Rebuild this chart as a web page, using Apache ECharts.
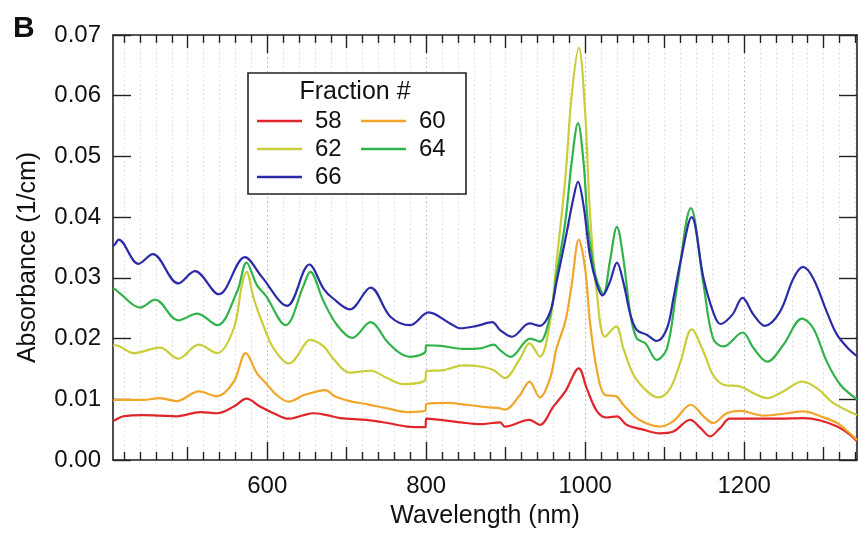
<!DOCTYPE html>
<html>
<head>
<meta charset="utf-8">
<script src="https://cdn.jsdelivr.net/npm/echarts@6/dist/echarts.min.js"></script>
<style>
html,body{margin:0;padding:0;background:#fff;}
#chart{width:858px;height:534px;}
</style>
</head>
<body>
<div id="chart"></div>
<script>
// ---- data (wavelength nm, absorbance 1/cm) ----
const s58 = [[406,0.0064],[409,0.0066],[419,0.0072],[444,0.0074],[465,0.0073],[486,0.0072],[516,0.0079],[537,0.0077],[558,0.0088],[574,0.0101],[591,0.0088],[608,0.0077],[627,0.0068],[646,0.0074],[658,0.0077],[675,0.0074],[692,0.0069],[725,0.0066],[751,0.0061],[776,0.0055],[799,0.0054],[800,0.0068],[818,0.0066],[843,0.0062],[868,0.0059],[893,0.0062],[899,0.0055],[930,0.0066],[943,0.0058],[960,0.0088],[975,0.0113],[992,0.0151],[1002,0.0118],[1015,0.0080],[1027,0.0070],[1040,0.0072],[1052,0.0058],[1073,0.0050],[1094,0.0044],[1111,0.0047],[1132,0.0066],[1145,0.0053],[1157,0.0039],[1170,0.0053],[1182,0.0068],[1212,0.0068],[1245,0.0068],[1275,0.0069],[1296,0.0065],[1317,0.0055],[1333,0.0042],[1342,0.0031]];
const s60 = [[406,0.0098],[409,0.0099],[444,0.0099],[465,0.0102],[486,0.0097],[514,0.0113],[537,0.0105],[558,0.0129],[573,0.0176],[587,0.0143],[600,0.0124],[612,0.0107],[627,0.0096],[646,0.0107],[654,0.0110],[673,0.0115],[685,0.0105],[704,0.0097],[725,0.0092],[751,0.0085],[776,0.0079],[799,0.0081],[800,0.0092],[826,0.0094],[851,0.0091],[876,0.0087],[893,0.0085],[899,0.0083],[918,0.0107],[930,0.0129],[943,0.0103],[956,0.0135],[964,0.0184],[975,0.0228],[983,0.0288],[992,0.0363],[1000,0.0315],[1006,0.0228],[1015,0.0146],[1025,0.0107],[1039,0.0105],[1048,0.0091],[1065,0.0069],[1082,0.0058],[1094,0.0055],[1111,0.0064],[1133,0.0091],[1149,0.0072],[1161,0.0061],[1178,0.0077],[1195,0.0081],[1224,0.0073],[1254,0.0077],[1275,0.0080],[1296,0.0072],[1317,0.0061],[1333,0.0044],[1342,0.0033]];
const s62 = [[406,0.0188],[409,0.0189],[432,0.0176],[465,0.0185],[488,0.0167],[514,0.0190],[537,0.0176],[558,0.0217],[568,0.0288],[574,0.0310],[583,0.0266],[595,0.0222],[608,0.0184],[627,0.0159],[650,0.0195],[654,0.0198],[671,0.0187],[683,0.0167],[704,0.0144],[730,0.0147],[751,0.0135],[771,0.0125],[799,0.0132],[800,0.0146],[822,0.0148],[847,0.0156],[868,0.0154],[885,0.0148],[899,0.0135],[918,0.0167],[930,0.0192],[943,0.0170],[956,0.0228],[964,0.0326],[975,0.0463],[983,0.0600],[992,0.0679],[1000,0.0573],[1006,0.0408],[1015,0.0271],[1025,0.0203],[1039,0.0220],[1048,0.0184],[1061,0.0140],[1078,0.0113],[1092,0.0103],[1107,0.0118],[1120,0.0162],[1134,0.0215],[1149,0.0178],[1161,0.0140],[1174,0.0124],[1195,0.0121],[1212,0.0110],[1229,0.0102],[1249,0.0113],[1273,0.0129],[1292,0.0118],[1312,0.0094],[1342,0.0074]];
const s64 = [[406,0.0283],[409,0.0281],[415,0.0274],[440,0.0251],[459,0.0264],[488,0.0230],[512,0.0241],[537,0.0222],[562,0.0277],[574,0.0325],[587,0.0288],[598,0.0271],[623,0.0222],[646,0.0288],[654,0.0310],[671,0.0261],[688,0.0222],[707,0.0201],[730,0.0227],[751,0.0195],[767,0.0176],[780,0.0170],[799,0.0178],[800,0.0189],[818,0.0188],[847,0.0183],[868,0.0184],[885,0.0190],[893,0.0181],[906,0.0170],[931,0.0200],[943,0.0195],[956,0.0239],[964,0.0304],[975,0.0392],[983,0.0490],[991,0.0555],[998,0.0490],[1004,0.0381],[1013,0.0304],[1023,0.0274],[1031,0.0326],[1040,0.0384],[1048,0.0332],[1057,0.0239],[1065,0.0200],[1076,0.0192],[1090,0.0165],[1103,0.0184],[1115,0.0280],[1133,0.0415],[1149,0.0288],[1161,0.0200],[1174,0.0187],[1198,0.0210],[1212,0.0184],[1229,0.0162],[1249,0.0189],[1273,0.0233],[1287,0.0217],[1304,0.0162],[1321,0.0124],[1342,0.0100]];
const s66 = [[406,0.0352],[409,0.0356],[413,0.0363],[438,0.0323],[456,0.0339],[488,0.0291],[509,0.0311],[539,0.0273],[572,0.0334],[593,0.0302],[625,0.0254],[653,0.0322],[671,0.0282],[683,0.0266],[704,0.0248],[730,0.0284],[755,0.0236],[780,0.0222],[803,0.0243],[830,0.0225],[843,0.0217],[864,0.0221],[883,0.0227],[893,0.0214],[908,0.0203],[930,0.0225],[943,0.0221],[956,0.0244],[964,0.0293],[977,0.0376],[985,0.0430],[991,0.0458],[998,0.0419],[1006,0.0337],[1015,0.0288],[1022,0.0271],[1031,0.0293],[1040,0.0325],[1048,0.0293],[1057,0.0239],[1065,0.0214],[1078,0.0206],[1090,0.0196],[1103,0.0217],[1111,0.0266],[1120,0.0327],[1134,0.0400],[1149,0.0299],[1161,0.0244],[1170,0.0224],[1185,0.0239],[1198,0.0267],[1212,0.0239],[1226,0.0221],[1245,0.0244],[1262,0.0299],[1274,0.0318],[1287,0.0299],[1304,0.0244],[1317,0.0206],[1333,0.0181],[1342,0.0171]];

const seriesNames = ['58','60','62','64','66'];
const seriesColors = ['#e0262b','#f0a62a','#cacd3a','#2fb34a','#2b2ba8'];
const xLabels = [600, 800, 1000, 1200];
const xMedium = [500, 700, 900, 1100, 1300];
const xMinor = [420,440,460,480,520,540,560,580,620,640,660,680,720,740,760,780,820,840,860,880,920,940,960,980,1020,1040,1060,1080,1120,1140,1160,1180,1220,1240,1260,1280,1320,1340];
const yTicks = [0, 0.01, 0.02, 0.03, 0.04, 0.05, 0.06, 0.07];
const X_MIN = 406, X_MAX = 1342;

const FONT = 'Liberation Sans, Arial, sans-serif';
const dark = '#222';

function xAx(pos, ticks, len, withLabels, splitColor, showLine) {
  return {
    type: 'value', position: pos, min: X_MIN, max: X_MAX,
    axisLine: { show: showLine, onZero: false, lineStyle: { color: dark, width: 1.6 } },
    axisTick: { show: true, inside: true, length: len, customValues: ticks, lineStyle: { color: dark, width: 1.4 } },
    axisLabel: withLabels ? { show: true, customValues: xLabels, fontSize: 24, color: '#111', fontFamily: FONT, margin: 14, formatter: v => String(Math.round(v)) } : { show: false },
    splitLine: splitColor ? { show: true, lineStyle: { color: splitColor, type: [1.5, 3], width: 1 } } : { show: false },
    name: withLabels ? 'Wavelength (nm)' : '',
    nameLocation: 'middle', nameGap: 44,
    nameTextStyle: { fontSize: 25, color: '#111', fontFamily: FONT }
  };
}
function yAx(pos, withLabels) {
  return {
    type: 'value', position: pos, min: 0, max: 0.07, interval: 0.01,
    axisLine: { show: true, onZero: false, lineStyle: { color: dark, width: 1.6 } },
    axisTick: { show: true, inside: true, length: 18, customValues: yTicks, lineStyle: { color: dark, width: 1.4 } },
    axisLabel: withLabels ? { show: true, customValues: yTicks, fontSize: 24, color: '#111', fontFamily: FONT, margin: 12, formatter: v => v.toFixed(2) } : { show: false },
    splitLine: { show: false },
    name: withLabels ? 'Absorbance (1/cm)' : '',
    nameLocation: 'middle', nameGap: 72, nameRotate: 90,
    nameTextStyle: { fontSize: 25, color: '#111', fontFamily: FONT, padding: [0, 20, 0, 0] }
  };
}

const data = [s58, s60, s62, s64, s66];
const chart = echarts.init(document.getElementById('chart'), null, { renderer: 'canvas' });
chart.setOption({
  animation: false,
  backgroundColor: '#fff',
  textStyle: { fontFamily: FONT },
  grid: { left: 113, right: 1, top: 35, bottom: 72, containLabel: false },
  xAxis: [
    xAx('bottom', xLabels, 18, true, '#aab0d4', true),
    xAx('bottom', xMedium, 13, false, '#d9d9d9', false),
    xAx('bottom', xMinor, 8, false, '#d9d9d9', false),
    xAx('top', xLabels, 18, false, null, true),
    xAx('top', xMedium, 13, false, null, false),
    xAx('top', xMinor, 8, false, null, false)
  ],
  yAxis: [yAx('left', true), yAx('right', false)],
  legend: [
    { data: ['58','62','66'], orient: 'vertical', left: 257, top: 109, itemGap: 4, itemWidth: 45, itemHeight: 2.5, icon: 'rect', padding: 0, z: 6,
      textStyle: { fontSize: 24, color: '#111', fontFamily: FONT, lineHeight: 24, padding: [0, 0, 0, 8] } },
    { data: ['60','64'], orient: 'vertical', left: 361, top: 109, itemGap: 4, itemWidth: 45, itemHeight: 2.5, icon: 'rect', padding: 0, z: 6,
      textStyle: { fontSize: 24, color: '#111', fontFamily: FONT, lineHeight: 24, padding: [0, 0, 0, 8] } }
  ],
  graphic: [
    { type: 'rect', z: 5, shape: { x: 248, y: 73, width: 218, height: 121 }, style: { fill: '#fff', stroke: '#222', lineWidth: 1.6 } },
    { type: 'text', z: 6, x: 355, y: 92, style: { text: 'Fraction #', fontSize: 25, fontFamily: FONT, fill: '#111', align: 'center', verticalAlign: 'middle' } },
    { type: 'text', z: 6, x: 13, y: 29, style: { text: 'B', fontSize: 30, fontWeight: 'bold', fontFamily: FONT, fill: '#111', align: 'left', verticalAlign: 'middle' } }
  ],
  series: data.map((d, i) => ({
    name: seriesNames[i], type: 'line', xAxisIndex: 0, yAxisIndex: 0,
    data: d, showSymbol: false, symbol: 'none',
    smooth: 0.35,
    lineStyle: { color: seriesColors[i], width: 2.2 },
    itemStyle: { color: seriesColors[i] },
    z: 2 + i
  }))
});
</script>
</body>
</html>
